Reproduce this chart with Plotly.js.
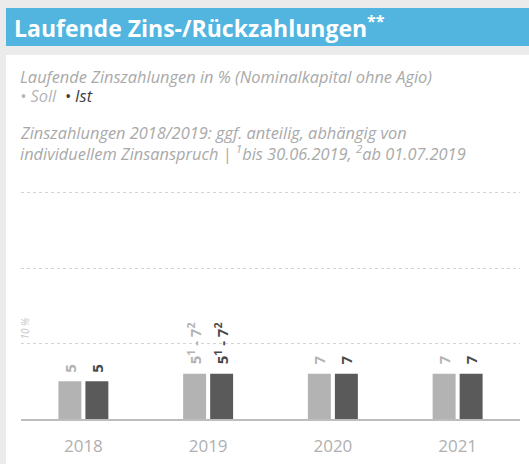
<!DOCTYPE html>
<html>
<head>
<meta charset="utf-8">
<script src="https://cdn.plot.ly/plotly-3.0.1.min.js"></script>
<style>
html,body{margin:0;padding:0;background:#ebebeb;}
#chart{width:529px;height:464px;}
</style>
</head>
<body>
<div id="chart"></div>
<script>
// ---- data ----
const years = ['2018', '2019', '2020', '2021'];
const sollHeights = [5, 6, 6, 6];
const istHeights = [5, 6, 6, 6];
const sollLabels = ['5', '5<sup>1</sup> - 7<sup>2</sup>', '7', '7'];
const istLabels = ['5', '5<sup>1</sup> - 7<sup>2</sup>', '7', '7'];
const gridValues = [10, 20, 30];

// ---- layout helpers (pixel -> paper) ----
const W = 529, H = 464;
const mL = 21, mR = 9, mT = 185, mB = 45;
const pw = W - mL - mR, ph = H - mT - mB;
const px = x => (x - mL) / pw;
const py = y => (H - mB - y) / ph;

const FONT = 'Open Sans, sans-serif';

const soll = {
  type: 'bar', x: years, y: sollHeights, name: 'Soll',
  marker: {color: '#b3b3b3'}, hoverinfo: 'skip'
};
const ist = {
  type: 'bar', x: years, y: istHeights, name: 'Ist',
  marker: {color: '#5a5a5a'}, hoverinfo: 'skip'
};

// labels placed on the category axis by category index
const barLabel = (labels, heights, shift, color, weight) => labels.map((t, i) => ({
  xref: 'x', yref: 'y', x: i, y: heights[i], xshift: shift, yshift: 7,
  xanchor: 'center', yanchor: 'bottom', textangle: -90, showarrow: false,
  text: t, font: {family: FONT, size: 15, color: color, weight: weight}
}));

const gray = '#a9a9a9';
const layout = {
  width: W, height: H,
  margin: {l: mL, r: mR, t: mT, b: mB},
  paper_bgcolor: '#ebebeb',
  plot_bgcolor: 'rgba(0,0,0,0)',
  showlegend: false,
  barmode: 'group', bargap: 0.567, bargroupgap: 0.15,
  font: {family: FONT},
  xaxis: {
    type: 'category', categoryarray: years, categoryorder: 'array',
    range: [-0.5, years.length - 0.5],
    showgrid: false, zeroline: false,
    showline: true, linecolor: '#bdbdbd', linewidth: 1.5,
    ticks: '', tickfont: {family: FONT, size: 17, color: '#b0b0b0'},
    ticklabelstandoff: 11, fixedrange: true
  },
  yaxis: {
    range: [0, 31], tickvals: gridValues, showticklabels: false,
    showgrid: true, gridcolor: '#d4d4d4', griddash: 'dot', gridwidth: 1,
    zeroline: false, showline: false, ticks: '', fixedrange: true
  },
  shapes: [
    {type: 'rect', xref: 'paper', yref: 'paper', layer: 'below',
     x0: px(6), x1: px(535), y0: py(470), y1: py(55),
     fillcolor: '#ffffff', line: {width: 0}},
    {type: 'rect', xref: 'paper', yref: 'paper', layer: 'below',
     x0: px(6), x1: px(535), y0: py(46), y1: py(8),
     fillcolor: '#51b5df', line: {width: 0}}
  ],
  annotations: [
    {xref: 'paper', yref: 'paper', x: px(12), y: py(27), xanchor: 'left', yanchor: 'middle',
     showarrow: false, text: '<b>Laufende Zins-/Rückzahlungen<sup>**</sup></b>',
     font: {family: FONT, size: 23, color: '#ffffff'}},
    {xref: 'paper', yref: 'paper', x: px(18), y: py(76), xanchor: 'left', yanchor: 'middle',
     showarrow: false, text: '<i>Laufende Zinszahlungen in % (Nominalkapital ohne Agio)</i>',
     font: {family: FONT, size: 16.4, color: gray}},
    {xref: 'paper', yref: 'paper', x: px(18), y: py(95), xanchor: 'left', yanchor: 'middle',
     showarrow: false,
     text: '<i><span style="color:#b5b5b5">• Soll</span>  <span style="color:#3c3c3c">• Ist</span></i>',
     font: {family: FONT, size: 16.4, color: gray}},
    {xref: 'paper', yref: 'paper', x: px(18), y: py(133), xanchor: 'left', yanchor: 'middle',
     showarrow: false, text: '<i>Zinszahlungen 2018/2019: ggf. anteilig, abhängig von</i>',
     font: {family: FONT, size: 16.4, color: gray}},
    {xref: 'paper', yref: 'paper', x: px(18), y: py(153), xanchor: 'left', yanchor: 'middle',
     showarrow: false, text: '<i>individuellem Zinsanspruch | <sup>1</sup>bis 30.06.2019, <sup>2</sup>ab 01.07.2019</i>',
     font: {family: FONT, size: 16.4, color: gray}},
    {xref: 'paper', yref: 'y', x: px(25), y: gridValues[0], yshift: 15, xanchor: 'center', yanchor: 'middle',
     showarrow: false, textangle: -90, text: '<i>10 %</i>',
     font: {family: FONT, size: 10, color: '#c4c4c4'}}
  ].concat(
    barLabel(sollLabels, sollHeights, -13.5, '#b3b3b3', 700),
    barLabel(istLabels, istHeights, 13.5, '#4a4a4a', 700)
  )
};

Plotly.newPlot('chart', [soll, ist], layout, {displayModeBar: false, staticPlot: true});
</script>
</body>
</html>
